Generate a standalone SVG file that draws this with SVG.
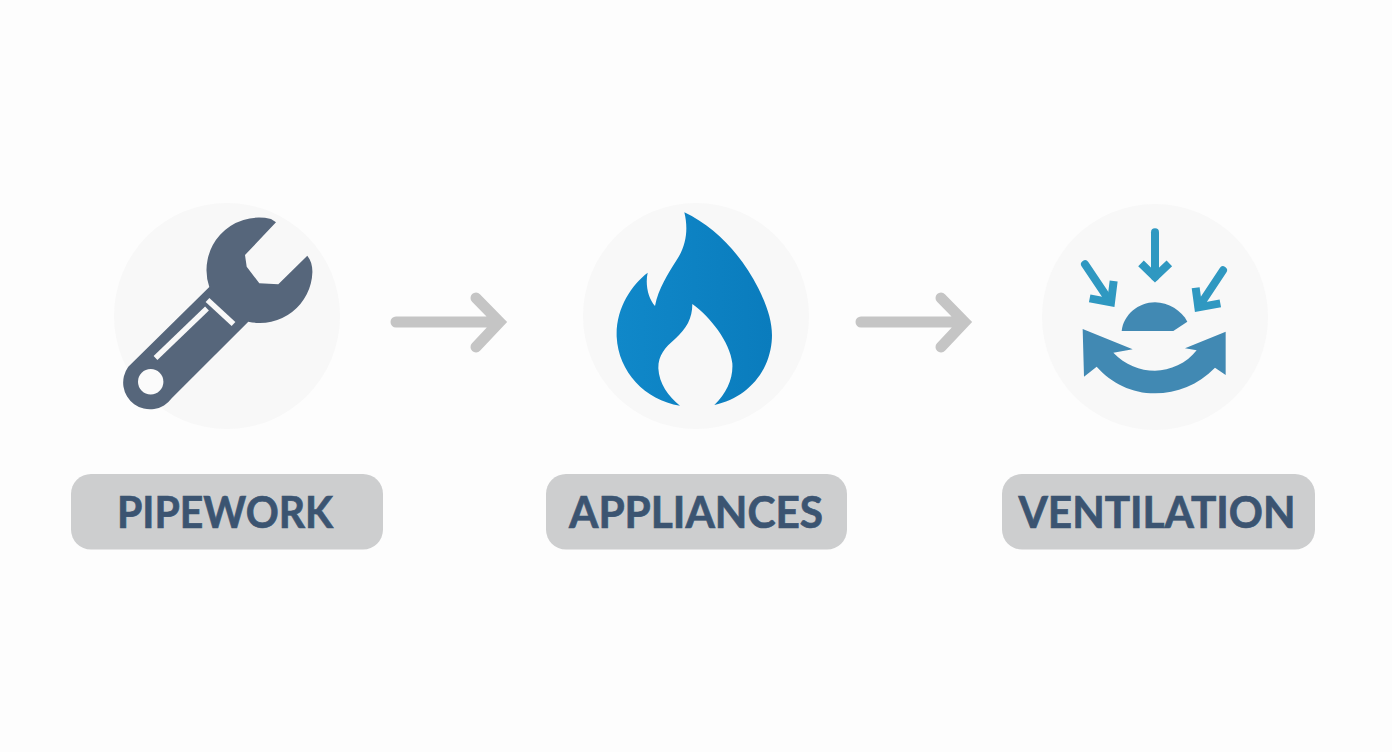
<svg xmlns="http://www.w3.org/2000/svg" width="1392" height="752" viewBox="0 0 1392 752">
<style>
.disc{fill:#f8f8f8}
.pill{fill:#cdcecf}
.label{font-family:"Lato","Liberation Sans",sans-serif;font-weight:700;font-size:43px;fill:#3b5471;stroke:#3b5471;stroke-width:.7;text-anchor:middle}
.conn{fill:none;stroke:#c5c5c5;stroke-width:11;stroke-linecap:round;stroke-linejoin:miter}
.vent{fill:none;stroke:#2f98c1;stroke-width:24;stroke-linejoin:miter}
.cut{fill:none;stroke:#f8f8f8}
</style>
<defs>
<g id="arrowShape"><path class="conn" d="M0 0H103M80 -24L103.500 0L80 25"/></g>
<linearGradient id="flameFill" x1="0" y1="0" x2="1" y2="0"><stop offset="0" stop-color="#1088c9"/><stop offset="1" stop-color="#0a7cbd"/></linearGradient>
</defs>
<rect width="1392" height="752" fill="#fdfdfd"/>
<g id="connectors">
<use href="#arrowShape" x="396" y="322"/>
<use href="#arrowShape" x="861" y="322"/>
</g>
<g id="pipework">
<circle class="disc" cx="227" cy="316" r="113"/>
<path fill="#56667b" d="M276 222.300L271 219A52.500 52.500 0 0 0 209.300 287L128.300 366.700A25.500 25.500 0 0 0 171.700 398.300L248.300 321.700A52.500 52.500 0 0 0 312.400 272C312.500 266 311 260 307.300 255.700L278.300 284.300L259.300 283.300L246.700 266.700L245 255Z"/>
<circle cx="150.700" cy="381.700" r="12.700" fill="#fbfbfb"/>
<path class="cut" stroke-width="5.500" d="M207 308.500L155.500 358"/>
<path class="cut" stroke-width="5.500" d="M207.500 300L233.500 324"/>
</g>
<g id="appliances">
<circle class="disc" cx="696" cy="316" r="113"/>
<path transform="translate(575 195) scale(.33333)" fill="url(#flameFill)" d="M328 52C420 95 500 180 550 280C580 340 595 390 590 440C580 540 510 610 418 630C455 595 475 550 472 505C465 440 405 365 352 327C352 370 335 400 300 432C270 458 250 480 250 520C252 565 280 605 315 632C210 615 130 530 125 425C122 340 170 270 218 233C210 270 220 310 240 333C250 280 280 235 305 195C335 150 340 100 328 52Z"/>
</g>
<g id="ventilation">
<circle class="disc" cx="1155" cy="317" r="113"/>
<g transform="translate(1035 195) scale(.33333)">
<path class="vent" stroke-linecap="round" d="M360 112V245"/>
<path class="vent" d="M318 205L360 246L403 205"/>
<path class="vent" stroke-linecap="round" d="M150 208L222 315"/>
<path class="vent" d="M164 310L228 322L236 258"/>
<path class="vent" stroke-linecap="round" d="M564 226L492 335"/>
<path class="vent" d="M482 278L490 337L556 325"/>
<path fill="#4189b3" d="M260 408C265 360 310 322 360 322C400 322 440 347 457 380L415 408Z"/>
<path fill="#4189b3" d="M143 402L293 463L235 473C270 510 315 527 360 527C405 527 455 505 485 466L450 460L572 410L572 540L540 518C490 570 425 595 360 595C290 595 230 565 185 515L147 545Z"/>
</g>
</g>
<g id="label-pipework">
<rect class="pill" x="71" y="474" width="312" height="75.500" rx="20"/>
<text class="label" x="225" y="527.500" textLength="216" lengthAdjust="spacingAndGlyphs">PIPEWORK</text>
</g>
<g id="label-appliances">
<rect class="pill" x="546" y="474" width="301" height="75.500" rx="20"/>
<text class="label" x="696" y="527.500" textLength="254" lengthAdjust="spacingAndGlyphs">APPLIANCES</text>
</g>
<g id="label-ventilation">
<rect class="pill" x="1002" y="474" width="313" height="75.500" rx="20"/>
<text class="label" x="1157" y="527.500" textLength="277" lengthAdjust="spacingAndGlyphs">VENTILATION</text>
</g>
</svg>
